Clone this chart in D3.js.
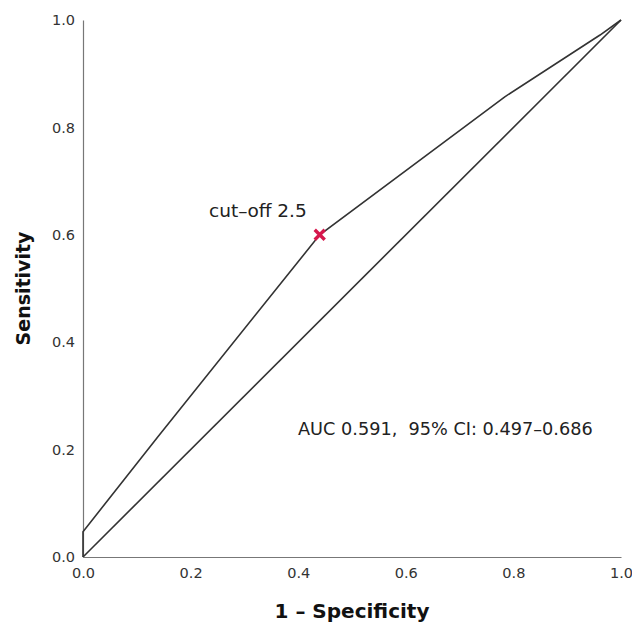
<!DOCTYPE html>
<html><head><meta charset="utf-8">
<script src="https://cdn.jsdelivr.net/npm/d3@7"></script>
<style>body{margin:0;background:#fff;}svg{display:block;}</style>
</head><body>
<script>
const rocFPR = [0, 0, 0.14, 0.44, 0.784, 0.961, 1];
const rocTPR = [0, 0.047, 0.225, 0.6, 0.857, 0.972, 1];
const refFPR = [0, 1];
const refTPR = [0, 1];
const cutoff = {fpr: 0.44, tpr: 0.6, label: "cut\u2013off 2.5"};
const aucText = "AUC 0.591,\u00a0\u00a095% CI: 0.497\u20130.686";
const ticks = [0, 0.2, 0.4, 0.6, 0.8, 1.0];

const W = 632, H = 624;
const svg = d3.select("body").append("svg").attr("width", W).attr("height", H);
const x = d3.scaleLinear().domain([0, 1]).range([83, 621]);
const y = d3.scaleLinear().domain([0, 1]).range([557, 20]);
const font = "'DejaVu Sans', 'Open Sans', sans-serif";

const xa = svg.append("g").attr("transform", `translate(0,${y(0)})`)
  .call(d3.axisBottom(x).tickValues(ticks).tickFormat(d3.format(".1f")).tickSize(0).tickPadding(11));
const ya = svg.append("g").attr("transform", `translate(${x(0)},0)`)
  .call(d3.axisLeft(y).tickValues(ticks).tickFormat(d3.format(".1f")).tickSize(0).tickPadding(8));
[xa, ya].forEach(a => {
  a.select(".domain").attr("stroke", "#777").attr("stroke-width", 1.2);
  a.selectAll("text").attr("font-family", font).attr("font-size", 14.5).attr("fill", "#333");
});

const line = d3.line().x(d => x(d[0])).y(d => y(d[1]));
svg.append("path").datum(refFPR.map((v, i) => [v, refTPR[i]])).attr("d", line)
  .attr("fill", "none").attr("stroke", "#333").attr("stroke-width", 1.6);
svg.append("path").datum(rocFPR.map((v, i) => [v, rocTPR[i]])).attr("d", line)
  .attr("fill", "none").attr("stroke", "#333").attr("stroke-width", 1.6);

const cx = x(cutoff.fpr), cy = y(cutoff.tpr), s = 5;
svg.append("path").attr("d", `M${cx-s},${cy-s}L${cx+s},${cy+s}M${cx-s},${cy+s}L${cx+s},${cy-s}`)
  .attr("stroke", "#d6174c").attr("stroke-width", 3.4).attr("fill", "none");

svg.append("text").attr("x", 209).attr("y", 217).text(cutoff.label)
  .attr("font-family", font).attr("font-size", 18.5).attr("fill", "#222");
svg.append("text").attr("x", 298).attr("y", 435).text(aucText)
  .attr("font-family", font).attr("font-size", 17.7).attr("fill", "#222");

svg.append("text").attr("x", (x(0)+x(1))/2).attr("y", 618).attr("text-anchor", "middle")
  .text("1 \u2013 Specificity").attr("font-family", font).attr("font-weight", "bold")
  .attr("font-size", 20).attr("fill", "#111");
svg.append("text").attr("transform", `translate(30,${(y(0)+y(1))/2}) rotate(-90)`)
  .attr("text-anchor", "middle").text("Sensitivity").attr("font-family", font)
  .attr("font-weight", "bold").attr("font-size", 19).attr("fill", "#111");
</script>
</body></html>
